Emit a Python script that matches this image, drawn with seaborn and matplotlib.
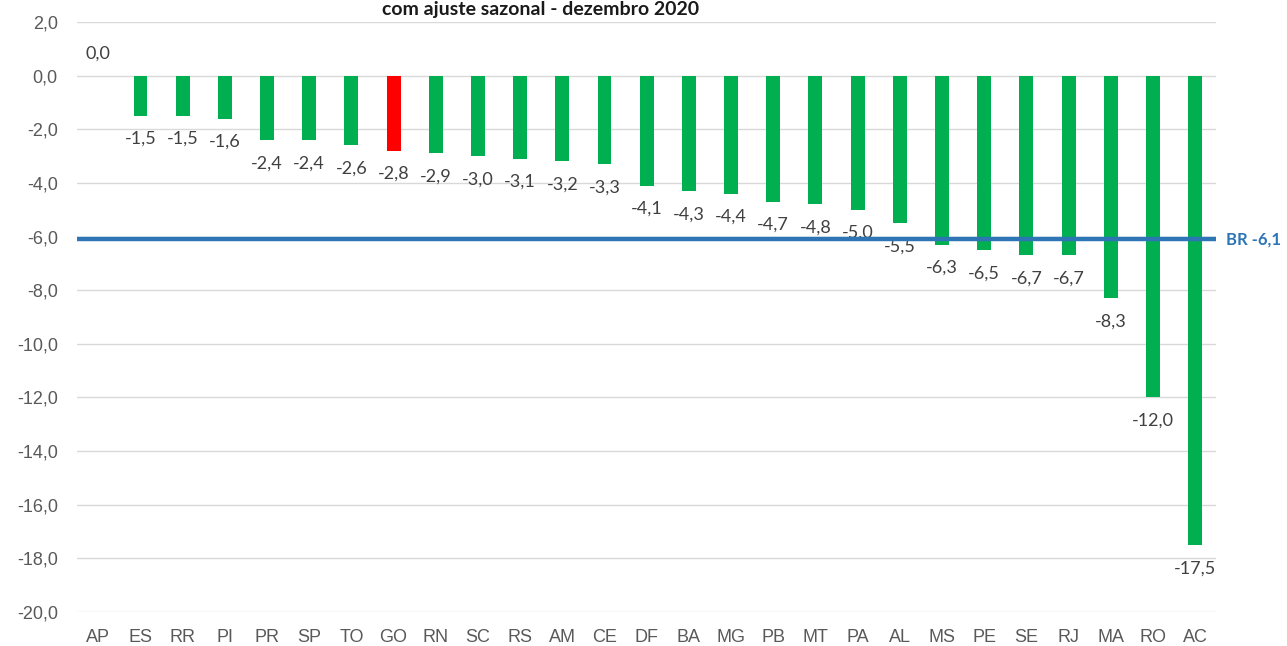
import matplotlib
matplotlib.use("Agg")
import matplotlib.pyplot as plt
import seaborn as sns
import pandas as pd

# Dados
estados = ["AP", "ES", "RR", "PI", "PR", "SP", "TO", "GO", "RN", "SC", "RS", "AM", "CE", "DF",
           "BA", "MG", "PB", "MT", "PA", "AL", "MS", "PE", "SE", "RJ", "MA", "RO", "AC"]
variacao = [0.0, -1.5, -1.5, -1.6, -2.4, -2.4, -2.6, -2.8, -2.9, -3.0, -3.1, -3.2, -3.3, -4.1,
            -4.3, -4.4, -4.7, -4.8, -5.0, -5.5, -6.3, -6.5, -6.7, -6.7, -8.3, -12.0, -17.5]
destaque = "GO"
media_br = -6.1
titulo = "com ajuste sazonal - dezembro 2020"
yticks = list(range(-20, 3, 2))

verde = "#00B050"
vermelho = "#FF0000"
azul = "#2E75B6"

df = pd.DataFrame({"UF": estados, "Var": variacao})
cores = {uf: (vermelho if uf == destaque else verde) for uf in estados}

sns.set_style("white")

fig = plt.figure(figsize=(12.87, 6.46), dpi=100)
ax = fig.add_axes([0.060, 0.0526, 0.885, 0.9134])

sns.barplot(data=df, x="UF", y="Var", hue="UF", palette=cores, legend=False,
            width=0.33, saturation=1, linewidth=0, ax=ax, zorder=2)

ax.set_ylim(-20, 2)
ax.set_xlim(-0.5, len(estados) - 0.5)
ax.set_yticks(yticks)
ax.set_yticklabels([f"{v:.1f}".replace(".", ",") for v in yticks])
ax.grid(axis="y", color="#D9D9D9", linewidth=1, zorder=0)
ax.set_axisbelow(True)
for s in ax.spines.values():
    s.set_visible(False)
ax.set_xlabel("")
ax.set_ylabel("")
ax.tick_params(axis="both", length=0, labelsize=13, colors="#595959")
ax.tick_params(axis="y", pad=14)
ax.tick_params(axis="x", pad=12)
for lab in ax.get_xticklabels() + ax.get_yticklabels():
    lab.set_family("Liberation Sans")

# Rótulos das barras
for p, v in zip(ax.patches, variacao):
    x = p.get_x() + p.get_width() / 2
    txt = f"{v:.1f}".replace(".", ",")
    if v >= 0:
        ax.annotate(txt, (x, v), xytext=(0, 10), textcoords="offset points",
                    ha="center", va="bottom", fontsize=13, color="#404040", family="Lato")
    else:
        ax.annotate(txt, (x, v), xytext=(0, -11), textcoords="offset points",
                    ha="center", va="top", fontsize=13, color="#404040", family="Lato")

# Linha do Brasil
ax.axhline(media_br, color=azul, linewidth=3.2, zorder=3)
ax.annotate(f"BR {media_br:.1f}".replace(".", ","), (1, media_br), xycoords=("axes fraction", "data"),
            xytext=(7, 0), textcoords="offset points", ha="left", va="center",
            fontsize=12, fontweight="bold", color=azul, family="Lato", annotation_clip=False)

fig.text(0.42, 0.999, titulo, ha="center", va="top", fontsize=14,
         fontweight="bold", color="#1a1a1a", family="Lato")

fig.savefig("out.png", dpi=100)
